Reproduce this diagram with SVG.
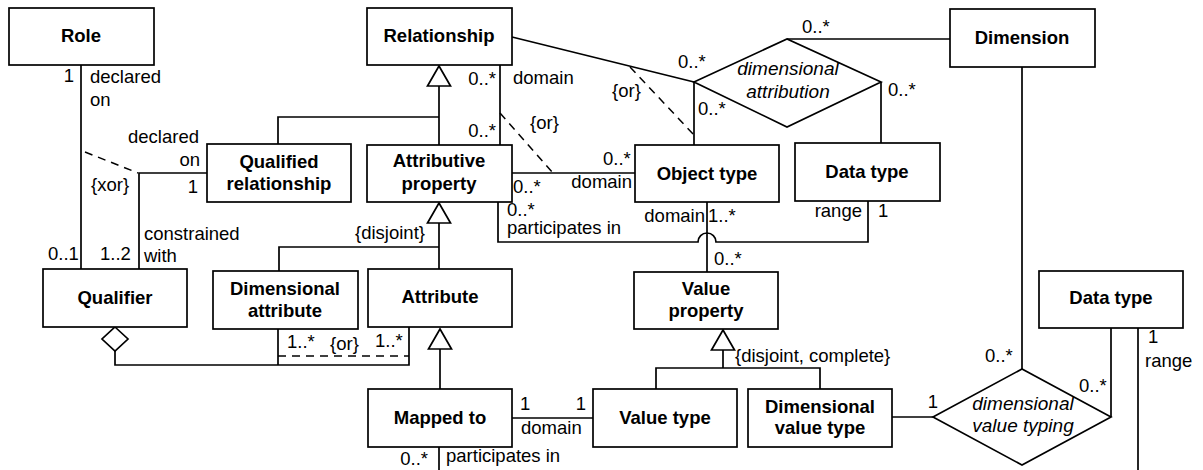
<svg xmlns="http://www.w3.org/2000/svg" width="1203" height="470" viewBox="0 0 1203 470">
  <style>
    .box { fill: #fff; stroke: #000; stroke-width: 1.7; }
    .ln { fill: none; stroke: #000; stroke-width: 1.7; }
    .dash { fill: none; stroke: #000; stroke-width: 1.5; stroke-dasharray: 8 6; }
    .tri { fill: #fff; stroke: #000; stroke-width: 1.7; }
    .name { font-family: "Liberation Sans", Arial, sans-serif; font-size: 18.5px; font-weight: bold; text-anchor: middle; fill: #000; }
    .lbl { font-family: "Liberation Sans", Arial, sans-serif; font-size: 18.5px; fill: #000; }
    .assoc { font-family: "Liberation Sans", Arial, sans-serif; font-size: 19px; font-style: italic; text-anchor: middle; fill: #000; }
    .end { text-anchor: end; }
  </style>

  <!-- connectors -->
  <g id="connectors">
    <!-- Role / Qualifier -->
    <line class="ln" x1="81" y1="65" x2="81" y2="269"/>
    <polyline class="ln" points="207,173 139,173 139,269"/>
    <line class="dash" x1="85" y1="152" x2="138" y2="173"/>

    <!-- Relationship generalization -->
    <polyline class="ln" points="439,86 439,145"/>
    <polyline class="ln" points="278,144 278,117 439,117"/>
    <polygon class="tri" points="439,66 450.5,86 427.5,86"/>

    <!-- Relationship domain -->
    <line class="ln" x1="500" y1="65" x2="500" y2="145"/>
    <line class="dash" x1="500" y1="113" x2="553" y2="173"/>
    <line class="ln" x1="512" y1="173" x2="635" y2="173"/>

    <!-- dimensional attribution -->
    <line class="ln" x1="512" y1="37" x2="694" y2="82"/>
    <line class="ln" x1="694" y1="82" x2="694" y2="145"/>
    <line class="dash" x1="630" y1="67" x2="694" y2="135"/>
    <line class="ln" x1="787" y1="39" x2="950" y2="39"/>
    <line class="ln" x1="881" y1="82" x2="881" y2="143"/>

    <!-- participates in, with a hop over the Object type line -->
    <path class="ln" d="M498,202 V242 H698 A9,9 0 0 1 716,242 H868 V201"/>
    <line class="ln" x1="707" y1="202" x2="707" y2="272"/>

    <!-- Attributive property generalization -->
    <line class="ln" x1="439" y1="223" x2="439" y2="269"/>
    <polyline class="ln" points="279,271 279,247 439,247"/>
    <polygon class="tri" points="439,203 450.5,223 427.5,223"/>

    <!-- Qualifier aggregation -->
    <polyline class="ln" points="115,351 115,365 409,365 409,327"/>
    <line class="ln" x1="278" y1="329" x2="278" y2="365"/>
    <line class="dash" x1="278" y1="356" x2="409" y2="356"/>
    <polygon class="tri" points="115,327 128,339 115,351 102,339"/>

    <!-- Attribute generalization -->
    <line class="ln" x1="440" y1="349" x2="440" y2="389"/>
    <polygon class="tri" points="440,329 451.5,349 428.5,349"/>

    <!-- Value property generalization -->
    <line class="ln" x1="723" y1="350" x2="723" y2="368"/>
    <polyline class="ln" points="656,389 656,368 820,368 820,389"/>
    <polygon class="tri" points="723,330 734.5,350 711.5,350"/>

    <!-- Mapped to -->
    <line class="ln" x1="512" y1="418" x2="593" y2="418"/>
    <line class="ln" x1="439" y1="447" x2="439" y2="470"/>

    <!-- dimensional value typing -->
    <line class="ln" x1="892" y1="417" x2="933" y2="417"/>
    <line class="ln" x1="1022" y1="67" x2="1022" y2="369"/>
    <line class="ln" x1="1111" y1="417" x2="1111" y2="328"/>
    <line class="ln" x1="1138" y1="328" x2="1138" y2="470"/>
  </g>

  <!-- connector labels -->
  <g id="labels" class="lbl">
    <text x="74" y="82" class="end">1</text>
    <text x="90" y="83">declared</text>
    <text x="90" y="106">on</text>
    <text x="128" y="143">declared</text>
    <text x="200" y="166" class="end">on</text>
    <text x="198" y="193" class="end">1</text>
    <text x="91" y="191">{xor}</text>
    <text x="144" y="240">constrained</text>
    <text x="144" y="262">with</text>
    <text x="48" y="260">0..1</text>
    <text x="100" y="260">1..2</text>

    <text x="496" y="85" class="end">0..*</text>
    <text x="513" y="84">domain</text>
    <text x="496" y="137" class="end">0..*</text>
    <text x="530" y="129">{or}</text>
    <text x="603" y="165">0..*</text>
    <text x="513" y="193">0..*</text>
    <text x="632" y="188" class="end">domain</text>
    <text x="612" y="97">{or}</text>
    <text x="678" y="68">0..*</text>
    <text x="698" y="115">0..*</text>
    <text x="802" y="33">0..*</text>
    <text x="888" y="96">0..*</text>

    <text x="507" y="216">0..*</text>
    <text x="507" y="234">participates in</text>
    <text x="705" y="222" class="end">domain</text>
    <text x="708" y="222">1..*</text>
    <text x="862" y="217" class="end">range</text>
    <text x="878" y="217">1</text>
    <text x="714" y="265">0..*</text>

    <text x="355" y="239">{disjoint}</text>
    <text x="287" y="348">1..*</text>
    <text x="330" y="350">{or}</text>
    <text x="375" y="347">1..*</text>
    <text x="735" y="362">{disjoint, complete}</text>

    <text x="520" y="410">1</text>
    <text x="586" y="410" class="end">1</text>
    <text x="521" y="434">domain</text>
    <text x="428" y="465" class="end">0..*</text>
    <text x="446" y="462">participates in</text>

    <text x="938" y="408" class="end">1</text>
    <text x="985" y="362">0..*</text>
    <text x="1079" y="392">0..*</text>
    <text x="1148" y="343">1</text>
    <text x="1145" y="367">range</text>
  </g>

  <!-- association diamonds -->
  <g id="dimensional-attribution">
    <polygon class="box" points="694,82 787,39 881,82 787,127"/>
    <text class="assoc" x="788" y="75">dimensional</text>
    <text class="assoc" x="788" y="98">attribution</text>
  </g>
  <g id="dimensional-value-typing">
    <polygon class="box" points="933,417 1022,369 1111,417 1022,465"/>
    <text class="assoc" x="1023" y="410">dimensional</text>
    <text class="assoc" x="1023" y="432">value typing</text>
  </g>

  <!-- classes -->
  <g id="role">
    <rect class="box" x="9" y="8" width="145" height="57"/>
    <text class="name" x="81" y="42">Role</text>
  </g>
  <g id="relationship">
    <rect class="box" x="367" y="8" width="145" height="57"/>
    <text class="name" x="439" y="42">Relationship</text>
  </g>
  <g id="dimension">
    <rect class="box" x="950" y="9" width="145" height="58"/>
    <text class="name" x="1022" y="44">Dimension</text>
  </g>
  <g id="qualified-relationship">
    <rect class="box" x="207" y="144" width="144" height="58"/>
    <text class="name" x="279" y="168">Qualified</text>
    <text class="name" x="279" y="190">relationship</text>
  </g>
  <g id="attributive-property">
    <rect class="box" x="367" y="145" width="145" height="57"/>
    <text class="name" x="439" y="167">Attributive</text>
    <text class="name" x="439" y="190">property</text>
  </g>
  <g id="object-type">
    <rect class="box" x="635" y="145" width="144" height="57"/>
    <text class="name" x="707" y="180">Object type</text>
  </g>
  <g id="data-type">
    <rect class="box" x="795" y="143" width="145" height="58"/>
    <text class="name" x="867" y="178">Data type</text>
  </g>
  <g id="qualifier">
    <rect class="box" x="43" y="269" width="144" height="58"/>
    <text class="name" x="115" y="304">Qualifier</text>
  </g>
  <g id="dimensional-attribute">
    <rect class="box" x="213" y="271" width="145" height="58"/>
    <text class="name" x="285" y="295">Dimensional</text>
    <text class="name" x="285" y="317">attribute</text>
  </g>
  <g id="attribute">
    <rect class="box" x="368" y="269" width="144" height="58"/>
    <text class="name" x="440" y="303">Attribute</text>
  </g>
  <g id="value-property">
    <rect class="box" x="634" y="272" width="144" height="57"/>
    <text class="name" x="706" y="295">Value</text>
    <text class="name" x="706" y="317">property</text>
  </g>
  <g id="data-type-2">
    <rect class="box" x="1039" y="271" width="144" height="57"/>
    <text class="name" x="1111" y="304">Data type</text>
  </g>
  <g id="mapped-to">
    <rect class="box" x="368" y="389" width="144" height="58"/>
    <text class="name" x="440" y="424">Mapped to</text>
  </g>
  <g id="value-type">
    <rect class="box" x="593" y="389" width="144" height="58"/>
    <text class="name" x="665" y="424">Value type</text>
  </g>
  <g id="dimensional-value-type">
    <rect class="box" x="748" y="389" width="144" height="58"/>
    <text class="name" x="820" y="413">Dimensional</text>
    <text class="name" x="820" y="434">value type</text>
  </g>
</svg>
